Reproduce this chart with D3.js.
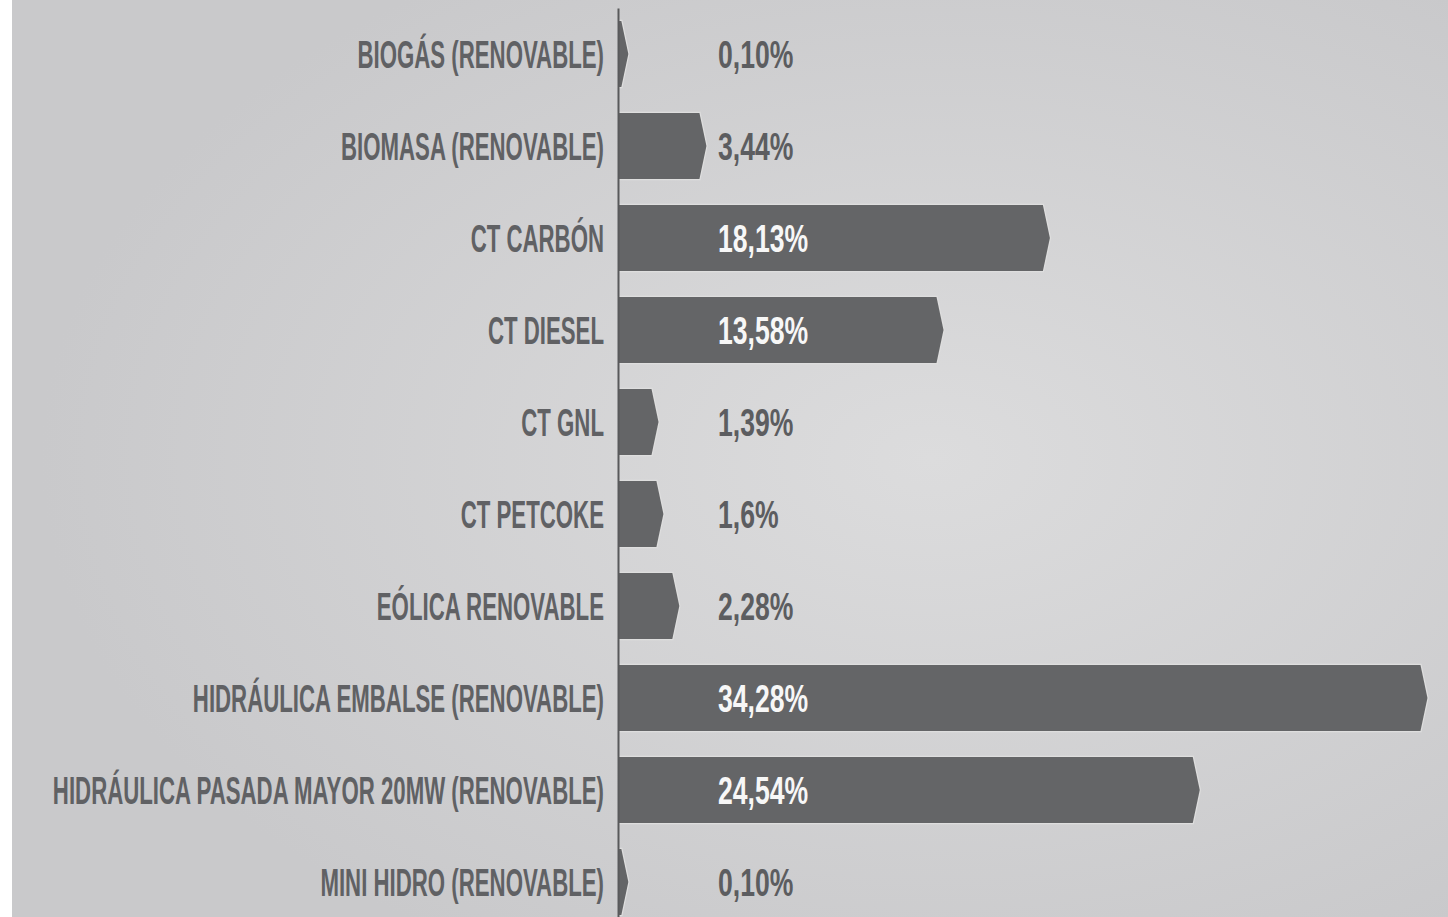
<!DOCTYPE html>
<html>
<head>
<meta charset="utf-8">
<script src="https://cdn.jsdelivr.net/npm/d3@7"></script>
<style>
  body { margin: 0; background: #fff; }
  svg { display: block; }
</style>
</head>
<body>
<div id="chart"></div>
<script>
// categories and shares (%)
var categories = [
  "BIOGÁS (RENOVABLE)",
  "BIOMASA (RENOVABLE)",
  "CT CARBÓN",
  "CT DIESEL",
  "CT GNL",
  "CT PETCOKE",
  "EÓLICA RENOVABLE",
  "HIDRÁULICA EMBALSE (RENOVABLE)",
  "HIDRÁULICA PASADA MAYOR 20MW (RENOVABLE)",
  "MINI HIDRO (RENOVABLE)"
];
var values = [0.10, 3.44, 18.13, 13.58, 1.39, 1.6, 2.28, 34.28, 24.54, 0.10];
var valueLabels = ["0,10%", "3,44%", "18,13%", "13,58%", "1,39%", "1,6%", "2,28%", "34,28%", "24,54%", "0,10%"];

var data = categories.map(function(c, i) {
  return { name: c, value: values[i], label: valueLabels[i] };
});

var w = 1448, h = 917;
var x0 = 619;
var tip = 7;

var svg = d3.select("#chart").append("svg")
  .attr("width", w)
  .attr("height", h);

// background
var defs = svg.append("defs");
var grad = defs.append("radialGradient")
  .attr("id", "bg")
  .attr("cx", "0.64").attr("cy", "0.5").attr("r", "0.62");
grad.append("stop").attr("offset", "0%").attr("stop-color", "#dcdcdd");
grad.append("stop").attr("offset", "100%").attr("stop-color", "#c9c9cb");

svg.append("rect")
  .attr("x", 12).attr("y", 0)
  .attr("width", w - 12).attr("height", h)
  .attr("fill", "url(#bg)");

var xScale = d3.scaleLinear()
  .domain([0, 35])
  .range([x0, x0 + 23.38 * 35]);

var yScale = d3.scaleBand()
  .domain(categories)
  .range([8, 928])
  .paddingInner(0.283)
  .paddingOuter(0.1415);

// arrow bars
svg.selectAll("path.bar")
  .data(data)
  .enter()
  .append("path")
  .attr("class", "bar")
  .attr("d", function(d) {
    var y0 = yScale(d.name), bh = yScale.bandwidth();
    var x1 = xScale(d.value);
    return "M" + xScale(0) + "," + y0 +
           "H" + x1 +
           "L" + (x1 + tip) + "," + (y0 + bh / 2) +
           "L" + x1 + "," + (y0 + bh) +
           "H" + xScale(0) + "Z";
  })
  .attr("fill", "#646567")
  .attr("stroke", "#dedede")
  .attr("stroke-width", 2.5)
  .attr("paint-order", "stroke");

// axis line
var yAxis = d3.axisLeft(yScale).tickSize(0).tickSizeOuter(0).tickFormat("");
var ax = svg.append("g")
  .attr("transform", "translate(" + (x0 - 1) + ",0)")
  .call(yAxis);
ax.select(".domain").attr("stroke", "#58595b").attr("stroke-width", 2);

// category labels
svg.selectAll("text.cat")
  .data(data)
  .enter()
  .append("text")
  .attr("class", "cat")
  .attr("transform", function(d) {
    return "translate(604," + (yScale(d.name) + yScale.bandwidth() / 2 + 14) + ") scale(0.585,1)";
  })
  .attr("text-anchor", "end")
  .style("font-family", "'Liberation Sans Narrow', 'Liberation Sans', sans-serif")
  .style("font-weight", "bold")
  .style("font-size", "38px")
  .attr("fill", "#606164")
  .text(function(d) { return d.name; });

// value labels
svg.selectAll("text.val")
  .data(data)
  .enter()
  .append("text")
  .attr("class", "val")
  .attr("transform", function(d) {
    return "translate(718," + (yScale(d.name) + yScale.bandwidth() / 2 + 14) + ") scale(0.7,1)";
  })
  .attr("text-anchor", "start")
  .style("font-family", "'Liberation Sans Narrow', 'Liberation Sans', sans-serif")
  .style("font-weight", "bold")
  .style("font-size", "38px")
  .attr("fill", function(d) { return xScale(d.value) > 760 ? "#f7f7f7" : "#5c5d60"; })
  .text(function(d) { return d.label; });
</script>
</body>
</html>
